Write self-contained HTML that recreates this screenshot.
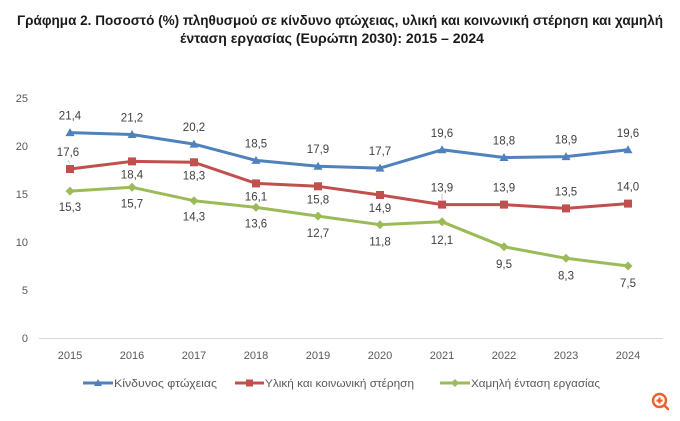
<!DOCTYPE html>
<html>
<head>
<meta charset="utf-8">
<style>
html,body{margin:0;padding:0;background:#fff;}
svg{display:block;}
text{font-family:"Liberation Sans","DejaVu Sans",sans-serif;}
</style>
</head>
<body>
<svg width="680" height="421" viewBox="0 0 680 421" xmlns="http://www.w3.org/2000/svg">
<rect width="680" height="421" fill="#fff"/>
<!-- Title -->
<text x="17" y="25" font-size="13.5" font-weight="bold" fill="#1a1a1a" textLength="646" lengthAdjust="spacingAndGlyphs">Γράφημα 2. Ποσοστό (%) πληθυσμού σε κίνδυνο φτώχειας, υλική και κοινωνική στέρηση και χαμηλή</text>
<text x="180" y="43" font-size="13.5" font-weight="bold" fill="#1a1a1a" textLength="304" lengthAdjust="spacingAndGlyphs">ένταση εργασίας (Ευρώπη 2030): 2015 – 2024</text>

<!-- Y axis labels -->
<g font-size="11" fill="#595959" text-anchor="end">
<text x="28" y="102">25</text>
<text x="28" y="150">20</text>
<text x="28" y="198">15</text>
<text x="28" y="246">10</text>
<text x="28" y="294">5</text>
<text x="28" y="342">0</text>
</g>
<!-- baseline -->
<line x1="39" y1="338.5" x2="663" y2="338.5" stroke="#D9D9D9" stroke-width="1"/>
<!-- X axis labels -->
<g font-size="11" fill="#595959" text-anchor="middle">
<text x="70" y="359">2015</text>
<text x="132" y="359">2016</text>
<text x="194" y="359">2017</text>
<text x="256" y="359">2018</text>
<text x="318" y="359">2019</text>
<text x="380" y="359">2020</text>
<text x="442" y="359">2021</text>
<text x="504" y="359">2022</text>
<text x="566" y="359">2023</text>
<text x="628" y="359">2024</text>
</g>

<!-- Blue series -->
<polyline fill="none" stroke="#4F81BD" stroke-width="3" stroke-linejoin="round" points="70,132.6 132,134.5 194,144.1 256,160.4 318,166.2 380,168.1 442,149.8 504,157.5 566,156.6 628,149.8"/>
<g fill="#4F81BD">
<polygon points="70,128.1 74.5,136.1 65.5,136.1"/>
<polygon points="132,130 136.5,138 127.5,138"/>
<polygon points="194,139.6 198.5,147.6 189.5,147.6"/>
<polygon points="256,155.9 260.5,163.9 251.5,163.9"/>
<polygon points="318,161.7 322.5,169.7 313.5,169.7"/>
<polygon points="380,163.6 384.5,171.6 375.5,171.6"/>
<polygon points="442,145.3 446.5,153.3 437.5,153.3"/>
<polygon points="504,153 508.5,161 499.5,161"/>
<polygon points="566,152.1 570.5,160.1 561.5,160.1"/>
<polygon points="628,145.3 632.5,153.3 623.5,153.3"/>
</g>

<!-- Red series -->
<polyline fill="none" stroke="#C0504D" stroke-width="3" stroke-linejoin="round" points="70,169 132,161.4 194,162.3 256,183.4 318,186.3 380,195 442,204.6 504,204.6 566,208.4 628,203.6"/>
<g fill="#C0504D">
<rect x="66" y="165" width="8" height="8"/>
<rect x="128" y="157.4" width="8" height="8"/>
<rect x="190" y="158.3" width="8" height="8"/>
<rect x="252" y="179.4" width="8" height="8"/>
<rect x="314" y="182.3" width="8" height="8"/>
<rect x="376" y="191" width="8" height="8"/>
<rect x="438" y="200.6" width="8" height="8"/>
<rect x="500" y="200.6" width="8" height="8"/>
<rect x="562" y="204.4" width="8" height="8"/>
<rect x="624" y="199.6" width="8" height="8"/>
</g>

<!-- Green series -->
<polyline fill="none" stroke="#9BBB59" stroke-width="3" stroke-linejoin="round" points="70,191.1 132,187.3 194,200.7 256,207.4 318,216.1 380,224.7 442,221.8 504,246.8 566,258.3 628,266"/>
<g fill="#9BBB59">
<polygon points="70,186.6 74.5,191.1 70,195.6 65.5,191.1"/>
<polygon points="132,182.8 136.5,187.3 132,191.8 127.5,187.3"/>
<polygon points="194,196.2 198.5,200.7 194,205.2 189.5,200.7"/>
<polygon points="256,202.9 260.5,207.4 256,211.9 251.5,207.4"/>
<polygon points="318,211.6 322.5,216.1 318,220.6 313.5,216.1"/>
<polygon points="380,220.2 384.5,224.7 380,229.2 375.5,224.7"/>
<polygon points="442,217.3 446.5,221.8 442,226.3 437.5,221.8"/>
<polygon points="504,242.3 508.5,246.8 504,251.3 499.5,246.8"/>
<polygon points="566,253.8 570.5,258.3 566,262.8 561.5,258.3"/>
<polygon points="628,261.5 632.5,266 628,270.5 623.5,266"/>
</g>

<!-- Data labels -->
<g font-size="11.5" fill="#404040" text-anchor="middle">
<!-- blue above -->
<text x="70" y="119.6">21,4</text>
<text x="132" y="121.5">21,2</text>
<text x="194" y="131.1">20,2</text>
<text x="256" y="147.4">18,5</text>
<text x="318" y="153.2">17,9</text>
<text x="380" y="155.1">17,7</text>
<text x="442" y="136.8">19,6</text>
<text x="504" y="144.5">18,8</text>
<text x="566" y="143.6">18,9</text>
<text x="628" y="136.8">19,6</text>
<!-- red -->
<text x="68" y="156">17,6</text>
<text x="132" y="178.4">18,4</text>
<text x="194" y="179.3">18,3</text>
<text x="256" y="200.4">16,1</text>
<text x="318" y="203.3">15,8</text>
<text x="380" y="212">14,9</text>
<text x="442" y="191.6">13,9</text>
<text x="504" y="191.6">13,9</text>
<text x="566" y="195.4">13,5</text>
<text x="628" y="190.6">14,0</text>
<!-- green below -->
<text x="70" y="211.1">15,3</text>
<text x="132" y="207.3">15,7</text>
<text x="194" y="220.7">14,3</text>
<text x="256" y="227.4">13,6</text>
<text x="318" y="237.1">12,7</text>
<text x="380" y="245.7">11,8</text>
<text x="442" y="243.8">12,1</text>
<text x="504" y="267.8">9,5</text>
<text x="566" y="279.3">8,3</text>
<text x="628" y="287">7,5</text>
</g>
<line x1="68" y1="160" x2="70" y2="164" stroke="#bbb" stroke-width="0.8"/>
<line x1="442" y1="194" x2="442" y2="200" stroke="#bbb" stroke-width="0.8"/>

<!-- Legend -->
<line x1="83" y1="383" x2="113" y2="383" stroke="#4F81BD" stroke-width="3"/>
<polygon points="98,379 102,386 94,386" fill="#4F81BD"/>
<text x="114" y="387" font-size="11" fill="#595959" textLength="103" lengthAdjust="spacingAndGlyphs">Κίνδυνος φτώχειας</text>

<line x1="235" y1="383" x2="264" y2="383" stroke="#C0504D" stroke-width="3"/>
<rect x="246" y="379.5" width="7" height="7" fill="#C0504D"/>
<text x="265" y="387" font-size="11" fill="#595959" textLength="149" lengthAdjust="spacingAndGlyphs">Υλική και κοινωνική στέρηση</text>

<line x1="440" y1="383" x2="470" y2="383" stroke="#9BBB59" stroke-width="3"/>
<polygon points="455,379 459,383 455,387 451,383" fill="#9BBB59"/>
<text x="471" y="387" font-size="11" fill="#595959" textLength="129" lengthAdjust="spacingAndGlyphs">Χαμηλή ένταση εργασίας</text>

<!-- Zoom icon -->
<g stroke="#E8602C" fill="none" stroke-width="2.4" stroke-linecap="round">
<circle cx="659.5" cy="400.5" r="6.5"/>
<line x1="664.5" y1="405.5" x2="668" y2="409"/>
</g>
<g fill="#E8602C">
<rect x="656.5" y="399.5" width="6" height="2.2"/>
<rect x="658.4" y="397.5" width="2.2" height="6"/>
</g>
</svg>
</body>
</html>
